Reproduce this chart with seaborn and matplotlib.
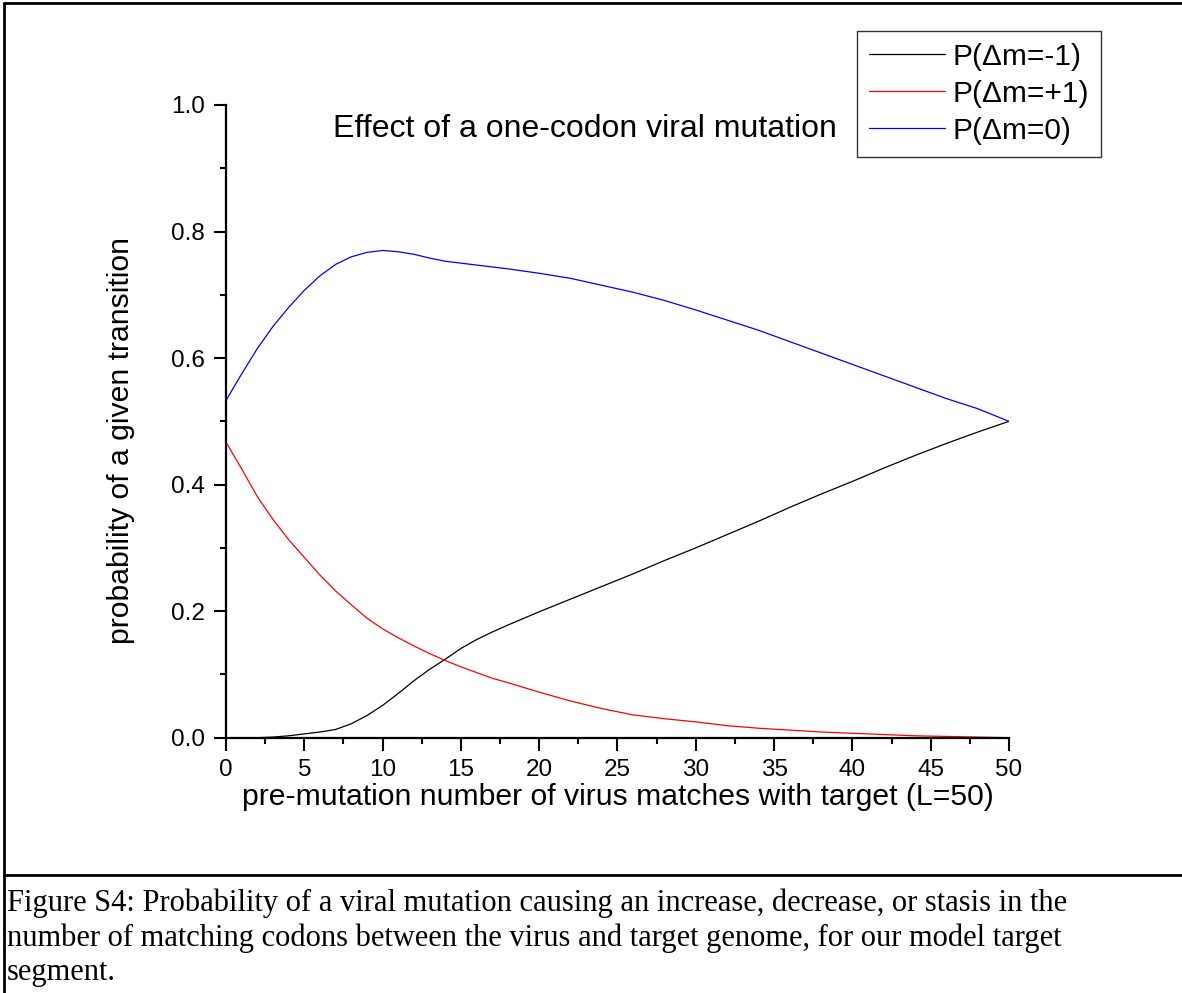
import pandas as pd
import matplotlib.pyplot as plt
import seaborn as sns
from matplotlib.lines import Line2D
from matplotlib.ticker import MultipleLocator

# matches before the mutation (L=50)
m = [0, 1, 2, 3, 4, 5, 6, 7, 8, 9, 10, 11, 12, 13, 14, 15, 16, 17, 18, 20,
     22, 24, 26, 28, 30, 32, 34, 36, 38, 40, 42, 44, 46, 48, 50]

# P(dm=-1)
p_minus = [0.0, 0.0, 0.0, 0.001, 0.003, 0.006, 0.009, 0.013, 0.022, 0.035, 0.051,
           0.070, 0.090, 0.108, 0.124, 0.141, 0.155, 0.167, 0.178, 0.199,
           0.219, 0.239, 0.259, 0.280, 0.300, 0.321, 0.342, 0.364, 0.385, 0.405,
           0.426, 0.446, 0.465, 0.483, 0.500]

# P(dm=+1)
p_plus = [0.467, 0.425, 0.381, 0.345, 0.313, 0.285, 0.257, 0.232, 0.210, 0.189, 0.172,
          0.158, 0.145, 0.133, 0.122, 0.112, 0.103, 0.094, 0.087, 0.072,
          0.058, 0.046, 0.036, 0.030, 0.025, 0.019, 0.015, 0.012, 0.009, 0.007,
          0.005, 0.003, 0.002, 0.001, 0.0]

# P(dm=0)
p_zero = [0.533, 0.575, 0.615, 0.650, 0.680, 0.707, 0.730, 0.748, 0.760, 0.767, 0.770,
          0.768, 0.764, 0.758, 0.753, 0.750, 0.747, 0.744, 0.741, 0.734,
          0.726, 0.715, 0.704, 0.691, 0.676, 0.660, 0.644, 0.626, 0.608, 0.590,
          0.572, 0.554, 0.536, 0.520, 0.500]

labels = ['P(\u0394m=-1)', 'P(\u0394m=+1)', 'P(\u0394m=0)']
colors = ['black', 'red', 'blue']

caption = ("Figure S4: Probability of a viral mutation causing an increase, decrease, or stasis in the\n"
           "number of matching codons between the virus and target genome, for our model target\n"
           "segment.")

df = pd.DataFrame({'m': m, labels[0]: p_minus, labels[1]: p_plus, labels[2]: p_zero})

sns.set_style('ticks')
plt.rcParams['font.family'] = ['Liberation Sans', 'DejaVu Sans']
plt.rcParams['text.color'] = 'black'
plt.rcParams['axes.labelcolor'] = 'black'
plt.rcParams['xtick.color'] = 'black'
plt.rcParams['ytick.color'] = 'black'

fig = plt.figure(figsize=(11.82, 9.93), dpi=100)
ax = fig.add_axes([0.1912, 0.2571, 0.6624, 0.6372])

for lab, col in zip(labels, colors):
    sns.lineplot(data=df, x='m', y=lab, color=col, linewidth=0.9, label=lab, ax=ax, legend=False)

ax.set_xlim(0, 50)
ax.set_ylim(0, 1)
ax.xaxis.set_major_locator(MultipleLocator(5))
ax.xaxis.set_minor_locator(MultipleLocator(2.5))
ax.yaxis.set_major_locator(MultipleLocator(0.2))
ax.yaxis.set_minor_locator(MultipleLocator(0.1))
ax.yaxis.set_major_formatter(plt.FormatStrFormatter('%.1f'))
ax.tick_params(which='major', direction='out', length=9, width=1.5, labelsize=17.5, pad=6)
ax.tick_params(which='minor', direction='out', length=4.5, width=1.5)
for s in ['left', 'bottom']:
    ax.spines[s].set_linewidth(1.6)
    ax.spines[s].set_color('black')
sns.despine(ax=ax)

ax.set_xlabel('pre-mutation number of virus matches with target (L=50)', fontsize=21.7, labelpad=2)
ax.set_ylabel('probability of a given transition', fontsize=21.7, labelpad=26, y=0.469)
ax.text(22.9, 0.962, 'Effect of a one-codon viral mutation', fontsize=23, ha='center', va='center')

handles = [Line2D([], [], color=c, linewidth=0.9) for c in colors]
leg = fig.legend(handles, labels, loc='upper left', bbox_to_anchor=(0.725, 1 - 31 / 993),
                 fontsize=21.5, frameon=True, fancybox=False, handlelength=2.55,
                 handletextpad=0.25, labelspacing=0.3, borderpad=0.4, borderaxespad=0)
leg.get_frame().set_edgecolor('black')
leg.get_frame().set_linewidth(1.0)

# outer frame and caption box
fig.add_artist(Line2D([4 / 1182, 1], [1 - 3 / 993, 1 - 3 / 993], color='black', linewidth=2, transform=fig.transFigure))
fig.add_artist(Line2D([4 / 1182, 4 / 1182], [0, 1 - 3 / 993], color='black', linewidth=2, transform=fig.transFigure))
fig.add_artist(Line2D([4 / 1182, 1], [1 - 875 / 993, 1 - 875 / 993], color='black', linewidth=2, transform=fig.transFigure))

fig.text(7 / 1182, 1 - 889 / 993, caption, fontsize=22, family=['Liberation Serif', 'DejaVu Serif'],
         ha='left', va='top', linespacing=1.22)

fig.savefig('out.png', dpi=100)
